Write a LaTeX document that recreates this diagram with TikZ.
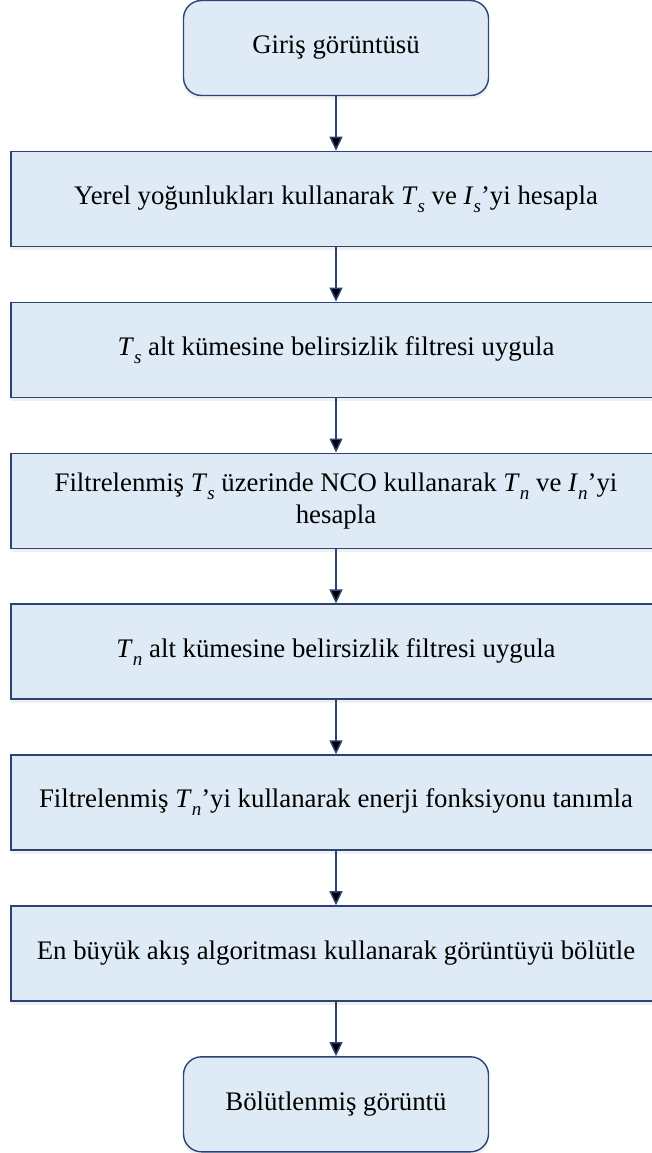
\documentclass[tikz,border=0pt]{standalone}
\usepackage{fontspec}
\setmainfont{Liberation Serif}
\usetikzlibrary{positioning, arrows.meta, shadows}

\definecolor{boxfill}{HTML}{DEEAF6}
\definecolor{boxline}{HTML}{2B4474}
\newcommand{\sym}[2]{\textit{#1}\raisebox{-0.3em}{\fontsize{19}{19}\selectfont\textit{#2}}}

\begin{document}
\begin{tikzpicture}[x=1pt, y=1pt,
	node distance=54.5pt,
	base/.style={draw=boxline, line width=1.4pt, fill=boxfill, align=center,
		minimum height=95pt, inner sep=2pt,
		font=\fontsize{26.8}{32}\selectfont,
		drop shadow={opacity=0.12, shadow xshift=0pt, shadow yshift=-4pt}},
	term/.style={base, rounded corners=18pt, minimum width=305pt},
	proc/.style={base, minimum width=650pt},
	flow/.style={draw=boxline, line width=1.4pt, -{Triangle[width=13pt, length=14pt]}}]
	\useasboundingbox (0,0) rectangle (651,-1153);

	\node[term] (s1) at (336,-48) {Giriş görüntüsü};
	\node[proc, below=of s1] (s2) {Yerel yoğunlukları kullanarak \sym{T}{s} ve \sym{I}{s}’yi hesapla};
	\node[proc, below=of s2] (s3) {\sym{T}{s} alt kümesine belirsizlik filtresi uygula};
	\node[proc, below=of s3] (s4) {Filtrelenmiş \sym{T}{s} üzerinde NCO kullanarak \sym{T}{n} ve \sym{I}{n}’yi\\hesapla};
	\node[proc, below=of s4] (s5) {\sym{T}{n} alt kümesine belirsizlik filtresi uygula};
	\node[proc, below=of s5] (s6) {Filtrelenmiş \sym{T}{n}’yi kullanarak enerji fonksiyonu tanımla};
	\node[proc, below=of s6] (s7) {En büyük akış algoritması kullanarak görüntüyü bölütle};
	\node[term, below=of s7] (s8) {Bölütlenmiş görüntü};

	\draw [flow]
		(s1) edge (s2)
		(s2) edge (s3)
		(s3) edge (s4)
		(s4) edge (s5)
		(s5) edge (s6)
		(s6) edge (s7)
		(s7) edge (s8)
		;
\end{tikzpicture}
\end{document}
